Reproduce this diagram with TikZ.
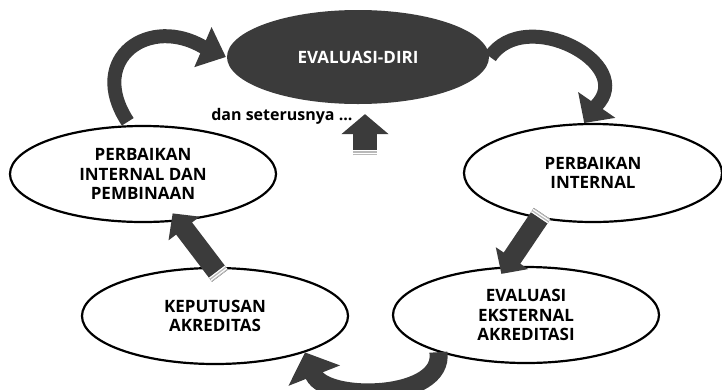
\documentclass[tikz,border=0pt]{standalone}
\usepackage{fontspec}
\setmainfont{Open Sans}
\usepackage{tikz}
\usetikzlibrary{shapes.geometric}
\usetikzlibrary{arrows.meta}

\definecolor{darkfill}{HTML}{3B3B3B}

\tikzset{
  oval/.style={ellipse, draw=black, line width=2.2pt, fill=white, inner sep=0pt,
    align=center, font=\bfseries\fontsize{17}{19.5}\selectfont,
    minimum width=266pt, minimum height=96pt},
  curvearrow/.style={draw=darkfill, line width=14pt, -{Triangle[length=24pt,width=42pt]}},
  blockarrow/.style={draw=darkfill, line width=20pt, -{Triangle[length=19pt,width=38pt]},
    postaction={draw=gray!55, -, dash pattern=on 5pt off 2000pt},
    postaction={draw=white, -, dash pattern=on 0pt off 1.2pt on 1.1pt off 1.6pt on 1.1pt off 2000pt}}
}

\begin{document}
\begin{tikzpicture}[x=1pt,y=-1pt]
  \useasboundingbox (0,0) rectangle (722,389);
  \clip (0,0) rectangle (722,389);

  \node[oval, fill=darkfill, draw=none, text=white, font=\bfseries\fontsize{17}{20}\selectfont,
    minimum width=262pt, minimum height=94pt] (diri) at (358,57) {EVALUASI-DIRI};
  \node[oval] (pbn) at (143,174) {PERBAIKAN\\INTERNAL DAN\\PEMBINAAN};
  \node[oval, minimum width=258pt, minimum height=98pt] (pbk) at (593,173) {PERBAIKAN\\INTERNAL};
  \node[oval] (eks) at (526,315) {EVALUASI\\EKSTERNAL\\AKREDITASI};
  \node[oval] (kep) at (215,316) {KEPUTUSAN\\AKREDITAS};

  % siklus
  \draw[curvearrow, -{Triangle[length=25pt,width=42pt]}, shorten <=4pt]
    (pbn.105) .. controls (86,58) and (150,14) .. (205,48) -- (diri.west);
  \draw[curvearrow, -{Triangle[length=22pt,width=44pt]}]
    (diri.east) .. controls (525,5) and (638,64) .. (596,106) -- (pbk.100);
  \draw[blockarrow, shorten <=-6pt, shorten >=-9pt] (pbk.220) -- (eks.112);
  \draw[curvearrow, line width=18pt, -{Triangle[length=25pt,width=54pt]}]
    (eks.203) .. controls (445,400) and (327,402) .. (314,375) -- (kep.-22);
  \draw[blockarrow, shorten <=-11pt, shorten >=-10pt] (kep.92) -- (pbn.-53);

  \coordinate (etcup) at (365,155);
  \draw[blockarrow, line width=24pt, -{Triangle[length=20pt,width=46pt]}, shorten >=9pt]
    (etcup) -- (etcup |- diri.south);
  \node[font=\bfseries\fontsize{16}{19}\selectfont, anchor=east] (etc) at (356,116) {dan seterusnya ...};
\end{tikzpicture}
\end{document}
